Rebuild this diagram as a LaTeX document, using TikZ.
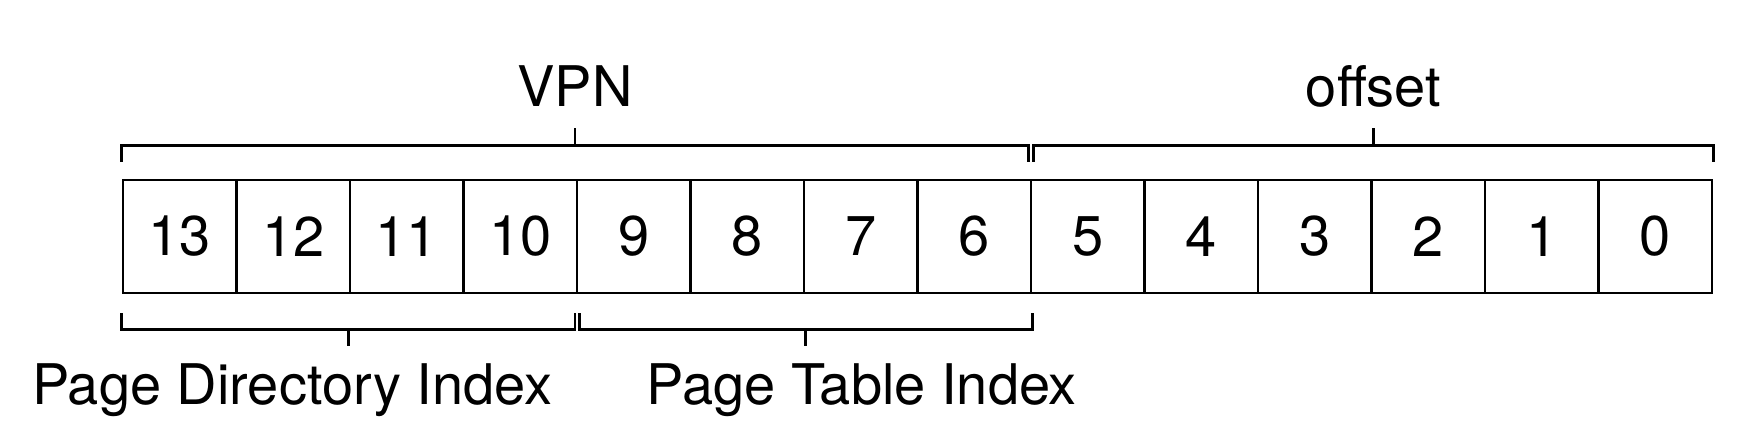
\documentclass[tikz,border=0pt]{standalone}
\usepackage{fontspec}
\setmainfont{TeX Gyre Heros}
\usetikzlibrary{calc, positioning}

\begin{document}
\begin{tikzpicture}[x=0.5pt, y=0.5pt,
                    bit/.style={draw, line width=1.4pt, minimum width=56.75pt,
                                minimum height=56.5pt, inner sep=0pt,
                                font=\fontsize{28}{30}\selectfont},
                    brace/.style={line width=1.4pt},
                    lbl/.style={anchor=base, inner sep=0pt,
                                font=\fontsize{28}{30}\selectfont}]
    \useasboundingbox (0,0) rectangle (1764,446);
    % the fourteen bits of the address
    \foreach \i in {0,...,13}
        \node[bit] (b\i) at ({123+(13-\i)*113.5+56.75},209.5) {\i};
    % VPN
    \coordinate (vpnA) at ([yshift=16.5pt]b13.north west);
    \coordinate (vpnB) at ([xshift=-2pt,yshift=16.5pt]b6.north east);
    \draw[brace] ([yshift=-8pt]vpnA) -- (vpnA) -- (vpnB) -- ([yshift=-8pt]vpnB);
    \draw[brace] ($(vpnA)!.5!(vpnB)$) -- ++(0,18) coordinate (vpnT);
    \node[lbl] (vpn) at ([yshift=10.5pt]vpnT) {VPN};
    % offset
    \coordinate (offA) at ([xshift=2pt,yshift=16.5pt]b5.north west);
    \coordinate (offB) at ([yshift=16.5pt]b0.north east);
    \draw[brace] ([yshift=-8pt]offA) -- (offA) -- (offB) -- ([yshift=-8pt]offB);
    \draw[brace] ($(offA)!.5!(offB)$) -- ++(0,18) coordinate (offT);
    \node[lbl] (offset) at ([yshift=10.5pt]offT) {offset};
    % page directory index
    \coordinate (pdiA) at ([yshift=-17.5pt]b13.south west);
    \coordinate (pdiB) at ([xshift=-1.75pt,yshift=-17.5pt]b10.south east);
    \draw[brace] ([yshift=8pt]pdiA) -- (pdiA) -- (pdiB) -- ([yshift=8pt]pdiB);
    \draw[brace] ($(pdiA)!.5!(pdiB)$) -- ++(0,-17) coordinate (pdiT);
    \node[lbl] (pdi) at ([xshift=-28pt,yshift=-29pt]pdiT) {Page Directory Index};
    % page table index
    \coordinate (ptiA) at ([xshift=1.75pt,yshift=-17.5pt]b9.south west);
    \coordinate (ptiB) at ([yshift=-17.5pt]b6.south east);
    \draw[brace] ([yshift=8pt]ptiA) -- (ptiA) -- (ptiB) -- ([yshift=8pt]ptiB);
    \draw[brace] ($(ptiA)!.5!(ptiB)$) -- ++(0,-17) coordinate (ptiT);
    \node[lbl] (pti) at ([xshift=28pt,yshift=-29pt]ptiT) {Page Table Index};
\end{tikzpicture}
\end{document}
